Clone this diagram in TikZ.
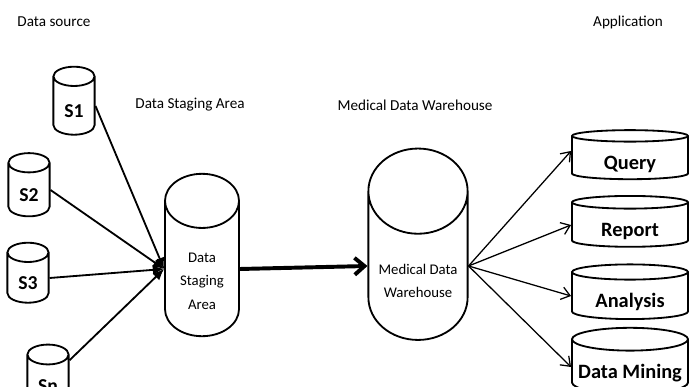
\documentclass[tikz,border=0pt]{standalone}
\usepackage{fontspec}
\setmainfont{Carlito}
\usetikzlibrary{arrows.meta,shapes.geometric}

\begin{document}
\begin{tikzpicture}[x=0.025cm, y=-0.025cm,
  db/.style={cylinder, shape border rotate=90, draw, line width=1.3pt,
             fill=white, inner sep=0pt, align=center},
  src/.style={db, aspect=1.0, minimum width=1.03cm,
              text height=16pt, text depth=0pt,
              font=\fontsize{14}{16}\selectfont\bfseries},
  store/.style={db, font=\fontsize{10.5}{16.5}\selectfont},
  app/.style={db, aspect=0.22, minimum width=2.9cm, minimum height=1.18cm,
              text height=19pt, text depth=3pt,
              font=\fontsize{14.5}{16}\selectfont\bfseries},
  head/.style={font=\fontsize{10.8}{13}\selectfont},
  feed/.style={line width=1.3pt, -{Latex[length=8pt,width=7pt]}},
  load/.style={line width=2.8pt, -{Straight Barb[length=7pt,width=12pt]}},
  use/.style={line width=0.9pt, -{Straight Barb[length=6pt,width=9pt]}},
]
  \useasboundingbox (0,0) rectangle (689,387);

  % --- Headings ---
  \node[head] (hsrc) at (54,22)  {Data source};
  \node[head] (happ) at (628,22) {Application};
  \node[head] (hdsa) at (190,105) {Data Staging Area};
  \node[head] (hmdw) at (415,105) {Medical Data Warehouse};

  % --- Data sources ---
  \node[src, minimum height=1.7cm]  (s1) at (74,106) {S1};
  \node[src, minimum height=1.58cm] (s2) at (29,190) {S2};
  \node[src, minimum height=1.5cm]  (s3) at (28,278) {S3};
  \node[src, minimum height=1.55cm] (sn) at (48,381) {Sn};

  % --- Staging and warehouse ---
  \node[store, aspect=1.24, minimum width=1.85cm, minimum height=4.05cm]
    (dsa) at (202,269) {\rule{0pt}{24pt}Data\\Staging\\Area};
  \node[store, aspect=1.08, minimum width=2.48cm, minimum height=4.18cm]
    (mdw) at (418,266) {\rule{0pt}{28pt}Medical Data\\Warehouse};

  % --- Applications ---
  \node[app] (query) at (630,158) {Query};
  \node[app] (report) at (630,225) {Report};
  \node[app] (analysis) at (630,296) {Analysis};
  \node[app] (mining) at (630,367) {Data Mining};

  % --- Connectors ---
  \foreach \s in {s1,s2,s3}
    \draw[feed] (\s.east) -- (dsa.west);
  \draw[feed] (sn) -- (dsa.west);

  \draw[load] (dsa.east) -- (mdw.west);

  \draw[use] (mdw.east) -- ([yshift=5pt]query.west);
  \foreach \a in {report,analysis,mining}
    \draw[use] (mdw.east) -- (\a.west);
\end{tikzpicture}
\end{document}
